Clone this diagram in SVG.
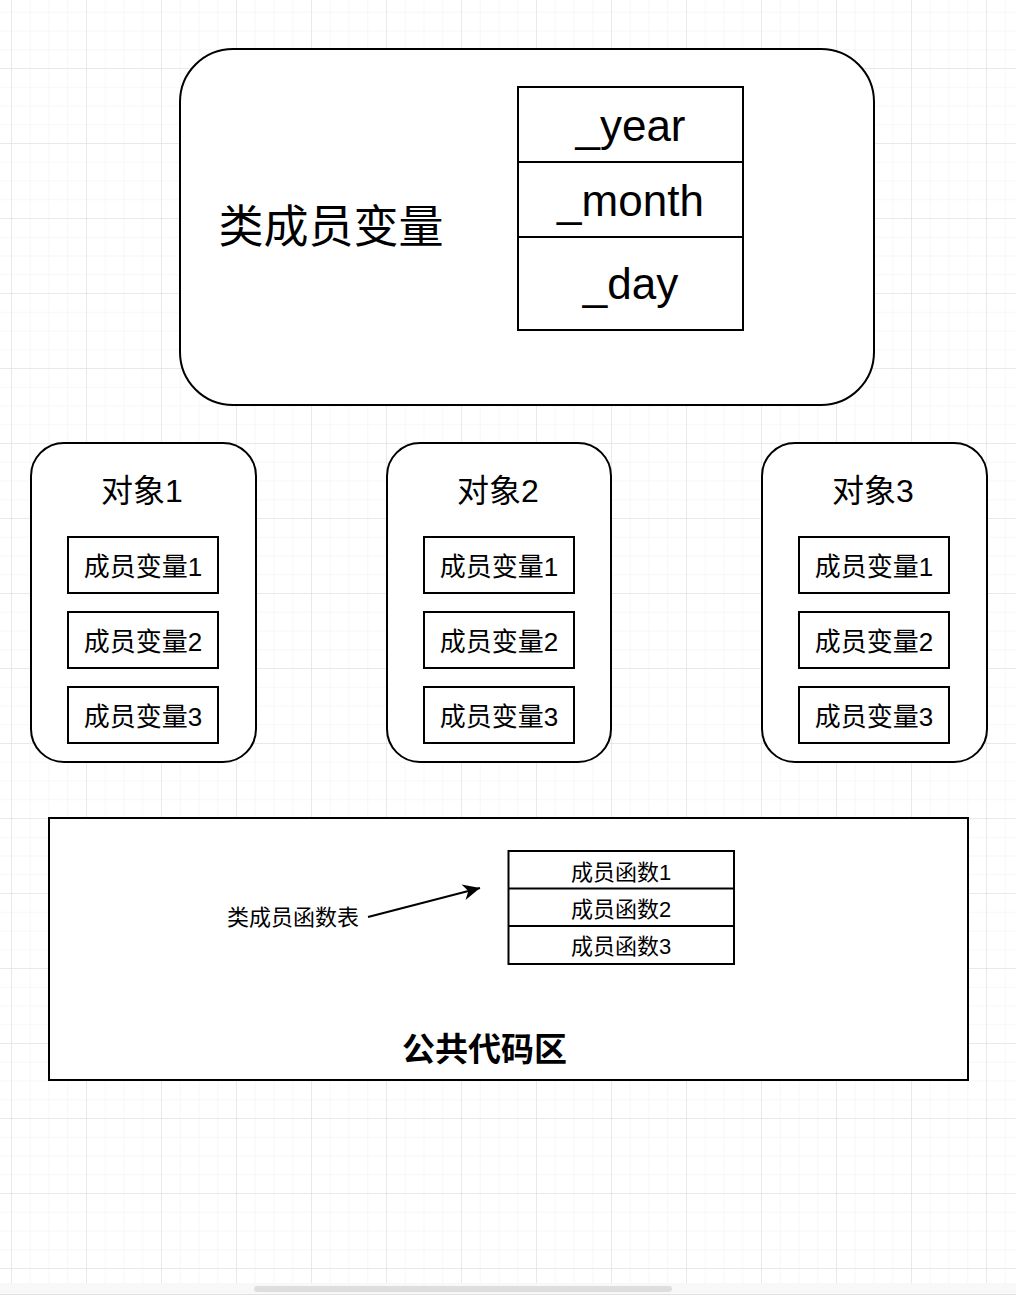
<svg xmlns="http://www.w3.org/2000/svg" width="1016" height="1295" viewBox="0 0 1016 1295">
  <defs>
    <pattern id="minorGrid" patternUnits="userSpaceOnUse" x="11" y="-7" width="18.75" height="18.75">
      <path d="M0,0 H18.75 M0,0 V18.75" fill="none" stroke="#f0f0f0" stroke-width="1"/>
    </pattern>
    <pattern id="majorGrid" patternUnits="userSpaceOnUse" x="11" y="-7" width="75" height="75">
      <path d="M0,0 H75 M0,0 V75" fill="none" stroke="#dcdcdc" stroke-width="1"/>
    </pattern>
    <marker id="arrow" viewBox="-20 -10 22 20" refX="0" refY="0" markerWidth="22" markerHeight="20" markerUnits="userSpaceOnUse" orient="auto">
      <path d="M0,0 L-17,-8 L-12,0 L-17,8 Z" fill="#000"/>
    </marker>
    <style>
      .box { fill: #fff; stroke: #000; stroke-width: 2; }
      .t { font-family: "Liberation Sans", "Noto Sans CJK SC", sans-serif; fill: #000; text-anchor: middle; }
      .big { font-size: 44px; }
      .cjkbig { font-size: 45px; }
      .title { font-size: 32px; }
      .mem { font-size: 26px; }
      .fn { font-size: 22px; }
      .bold { font-size: 33px; font-weight: bold; }
      .conn { fill: none; stroke: #000; stroke-width: 2; }
    </style>
  </defs>

  <!-- background grid -->
  <rect x="0" y="0" width="1016" height="1295" fill="#fff"/>
  <rect x="0" y="0" width="1016" height="1283" fill="url(#minorGrid)"/>
  <rect x="0" y="0" width="1016" height="1283" fill="url(#majorGrid)"/>
  <!-- scrollbar -->
  <rect x="0" y="1283" width="1016" height="12" fill="#f8f8f8"/>
  <rect x="254" y="1286" width="418" height="6" rx="3" fill="#dedede"/>
  <line x1="0" y1="1294.5" x2="1016" y2="1294.5" stroke="#e2e2e2" stroke-width="1"/>

  <!-- class member variables -->
  <g id="class-vars">
    <rect class="box" x="180" y="49" width="694" height="356" rx="53" ry="53"/>
    <text class="t cjkbig" x="331" y="243">类成员变量</text>
  </g>
  <g id="var-table">
    <rect class="box" x="518" y="87" width="225" height="243"/>
    <line class="conn" x1="518" y1="162" x2="743" y2="162"/>
    <line class="conn" x1="518" y1="237" x2="743" y2="237"/>
    <text class="t big" x="630.5" y="141">_year</text>
    <text class="t big" x="630.5" y="216">_month</text>
    <text class="t big" x="630.5" y="299">_day</text>
  </g>

  <!-- object 1 -->
  <g id="obj1">
    <rect class="box" x="31" y="443" width="225" height="319" rx="33" ry="33"/>
    <text class="t title" x="142" y="502">对象1</text>
    <rect class="box" x="68" y="537" width="150" height="56"/>
    <text class="t mem" x="143" y="576">成员变量1</text>
    <rect class="box" x="68" y="612" width="150" height="56"/>
    <text class="t mem" x="143" y="651">成员变量2</text>
    <rect class="box" x="68" y="687" width="150" height="56"/>
    <text class="t mem" x="143" y="726">成员变量3</text>
  </g>

  <!-- object 2 -->
  <g id="obj2">
    <rect class="box" x="387" y="443" width="224" height="319" rx="33" ry="33"/>
    <text class="t title" x="498" y="502">对象2</text>
    <rect class="box" x="424" y="537" width="150" height="56"/>
    <text class="t mem" x="499" y="576">成员变量1</text>
    <rect class="box" x="424" y="612" width="150" height="56"/>
    <text class="t mem" x="499" y="651">成员变量2</text>
    <rect class="box" x="424" y="687" width="150" height="56"/>
    <text class="t mem" x="499" y="726">成员变量3</text>
  </g>

  <!-- object 3 -->
  <g id="obj3">
    <rect class="box" x="762" y="443" width="225" height="319" rx="33" ry="33"/>
    <text class="t title" x="873" y="502">对象3</text>
    <rect class="box" x="799" y="537" width="150" height="56"/>
    <text class="t mem" x="874" y="576">成员变量1</text>
    <rect class="box" x="799" y="612" width="150" height="56"/>
    <text class="t mem" x="874" y="651">成员变量2</text>
    <rect class="box" x="799" y="687" width="150" height="56"/>
    <text class="t mem" x="874" y="726">成员变量3</text>
  </g>

  <!-- public code area -->
  <g id="code-area">
    <rect class="box" x="49" y="818" width="919" height="262"/>
    <text class="t bold" x="484.5" y="1061">公共代码区</text>
  </g>
  <g id="fn-label">
    <text class="t fn" x="293" y="925">类成员函数表</text>
  </g>
  <g id="fn-table">
    <rect class="box" x="508.5" y="851" width="225.5" height="113"/>
    <line class="conn" x1="508.5" y1="888.5" x2="734" y2="888.5"/>
    <line class="conn" x1="508.5" y1="926" x2="734" y2="926"/>
    <text class="t fn" x="621" y="879.5">成员函数1</text>
    <text class="t fn" x="621" y="916.5">成员函数2</text>
    <text class="t fn" x="621" y="953.5">成员函数3</text>
  </g>

  <!-- connectors -->
  <g id="connectors">
    <line class="conn" x1="368" y1="917" x2="480" y2="888" marker-end="url(#arrow)"/>
  </g>
</svg>
